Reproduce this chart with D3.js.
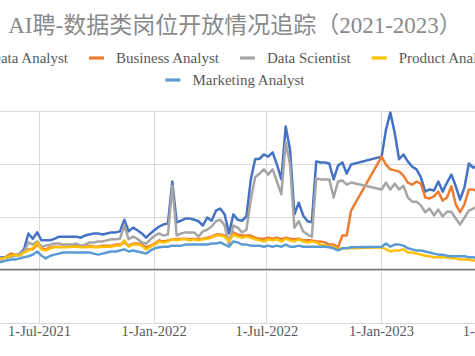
<!DOCTYPE html>
<html><head><meta charset="utf-8">
<script src="https://cdn.jsdelivr.net/npm/d3@7"></script>
<style>html,body{margin:0;padding:0;background:#fff;overflow:hidden}</style>
</head><body>
<svg id="c" width="475" height="356"></svg>
<script>
const title = "AI聘-数据类岗位开放情况追踪（2021-2023）";
const seriesNames = ["Data Analyst","Business Analyst","Data Scientist","Product Analyst","Marketing Analyst"];
const seriesColors = ["#4472C4","#ED7D31","#A5A5A5","#FFC000","#5B9BD5"];
const tickDates = ["2021-07-01","2022-01-01","2022-07-01","2023-01-01","2023-07-01"];
const yTicks = [-100, 0, 100, 200, 300];

// weekly observation dates (gap between mid-Nov 2022 and Jan 2023)
const weeks1 = d3.timeMonday.range(new Date(2021,3,26), new Date(2022,10,15));
const weeks2 = d3.timeMonday.range(new Date(2023,0,2), new Date(2023,5,6));
const dates = weeks1.concat(weeks2);

const dataAnalyst = [
21,23,23,25,26,30,38,68,58,70,55,55,55,58,62,62,62,62,62,60,
64,66,68,68,66,68,70,70,72,94,72,79,74,68,60,68,75,81,85,87,
166,89,92,96,96,94,91,83,98,92,111,115,104,68,104,94,92,100,170,208,
209,217,213,221,198,170,270,226,104,126,102,91,89,204,202,202,200,170,196,202,
181,198,
213,264,296,258,208,217,204,194,189,174,147,151,149,166,147,164,179,157,132,155,200,192,196];
const businessAnalyst = [
19,21,25,30,28,28,34,38,38,47,40,38,42,43,43,43,43,45,45,43,
43,45,43,43,45,45,45,47,47,51,45,49,49,47,42,45,49,55,53,55,
57,57,58,58,57,58,57,58,60,62,66,66,64,57,70,66,64,64,64,60,
58,58,60,58,60,57,60,58,57,58,55,55,55,53,53,51,47,47,42,64,
64,111,
213,198,189,187,185,177,164,160,166,162,136,134,138,147,130,136,157,123,108,123,151,151,147];
const dataScientist = [
19,21,23,25,26,30,34,51,47,53,43,45,47,49,49,47,47,47,49,45,
47,51,51,53,53,55,57,57,58,83,57,62,58,51,49,57,64,68,64,66,
158,64,68,70,70,70,62,72,75,81,91,94,83,47,83,79,70,75,132,174,
181,189,179,189,166,142,240,198,79,91,72,66,62,172,170,170,170,136,166,168,
160,164,
151,164,151,162,151,158,136,128,128,121,108,115,102,113,100,109,109,96,85,98,111,115,119];
const productAnalyst = [
17,21,23,26,28,26,32,36,40,51,38,36,40,42,42,42,42,43,43,42,
42,43,42,42,43,43,43,45,45,55,43,47,47,45,38,43,47,53,51,53,
57,55,57,57,55,57,55,57,58,60,64,64,62,53,66,62,60,62,60,57,
55,53,57,55,57,53,58,55,53,57,53,51,53,51,47,45,43,43,38,40,
40,40,
42,38,34,36,36,38,32,32,30,28,26,25,23,23,23,23,21,21,19,19,19,17,17];
const marketingAnalyst = [
13,15,17,19,19,21,23,25,28,34,26,21,26,28,30,32,32,32,32,32,
32,32,30,28,30,32,34,34,36,38,34,36,34,32,30,36,40,42,43,43,
45,45,45,47,47,47,47,47,47,49,49,51,47,43,53,51,47,47,45,45,
45,43,45,43,45,43,47,43,43,45,43,43,43,43,43,43,42,40,36,40,
40,42,
43,49,43,47,47,45,40,38,36,36,34,32,30,28,28,26,25,25,25,25,23,23,21];

const seriesValues = [dataAnalyst, businessAnalyst, dataScientist, productAnalyst, marketingAnalyst];

const W = 475, H = 356;
const svg = d3.select("#c");
svg.append("rect").attr("width", W).attr("height", H).attr("fill", "#fff");

const plotTop = 110.5, plotBottom = 322.5;
const x = d3.scaleTime().domain([new Date(2021,6,1), new Date(2023,0,1)]).range([39, 381]);
const y = d3.scaleLinear().domain([-100, 300]).range([plotBottom, plotTop]);

// horizontal gridlines (value labels lie outside the visible crop)
const yAxis = d3.axisLeft(y).tickValues(yTicks).tickSize(-1200);
const gy = svg.append("g").attr("transform", "translate(-200,0)").call(yAxis);
gy.select(".domain").remove();
gy.selectAll(".tick text").remove();
gy.selectAll(".tick line").attr("stroke", "#d9d9d9").attr("stroke-width", 1)
  .attr("shape-rendering", "crispEdges");

// vertical gridlines + labels
const xAxis = d3.axisBottom(x).tickValues(tickDates.map(s => d3.timeParse("%Y-%m-%d")(s)))
  .tickSize(-(plotBottom - plotTop)).tickPadding(3).tickFormat(d3.timeFormat("%-d-%b-%Y"));
const gx = svg.append("g").attr("transform", `translate(0,${plotBottom})`).call(xAxis);
gx.select(".domain").remove();
gx.selectAll(".tick line").attr("stroke", "#d9d9d9").attr("stroke-width", 1)
  .attr("shape-rendering", "crispEdges");
gx.selectAll(".tick text").attr("fill", "#595959")
  .style("font-family", "'Liberation Serif', 'Times New Roman', serif").style("font-size", "14.5px");

// zero line
svg.append("line").attr("x1", -10).attr("x2", W + 10).attr("y1", y(0)).attr("y2", y(0))
  .attr("stroke", "#767676").attr("stroke-width", 1.6);

// series
const line = d3.line().x((d, i) => x(dates[i])).y(d => y(d));
seriesValues.forEach((vals, k) => {
  svg.append("path").datum(vals).attr("d", line).attr("fill", "none")
    .attr("stroke", seriesColors[k]).attr("stroke-width", 2.5)
    .attr("stroke-linejoin", "round").attr("stroke-linecap", "round");
});

// title
svg.append("text").attr("x", 235).attr("y", 33).attr("text-anchor", "middle")
  .style("font-family", "'Liberation Serif', 'Noto Sans CJK SC', serif")
  .style("font-size", "23px").attr("fill", "#8a8a8a").text(title);

// legend
const rows = [[0,1,2,3],[4]];
const rowY = [58, 80];
const rowCx = [229, 235];
rows.forEach((row, r) => {
  const g = svg.append("g");
  let xpos = 0;
  row.forEach(k => {
    const item = g.append("g").attr("transform", `translate(${xpos},0)`);
    item.append("line").attr("x1", 0).attr("x2", 15).attr("y1", 0).attr("y2", 0)
      .attr("stroke", seriesColors[k]).attr("stroke-width", 3.2);
    const t = item.append("text").attr("x", 27).attr("y", 5)
      .style("font-family", "'Liberation Serif', 'Times New Roman', serif")
      .style("font-size", "15px").attr("fill", "#595959").text(seriesNames[k]);
    xpos += 27 + t.node().getComputedTextLength() + 21;
  });
  const total = xpos - 21;
  g.attr("transform", `translate(${rowCx[r] - total / 2},${rowY[r]})`);
});
</script>
</body></html>
